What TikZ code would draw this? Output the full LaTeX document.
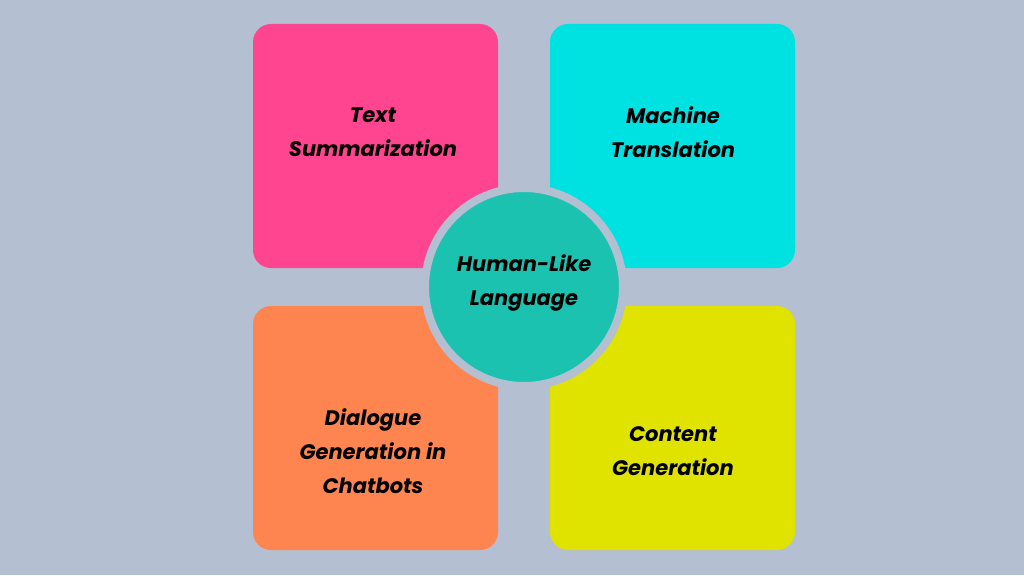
\documentclass[tikz,border=0pt]{standalone}
\usepackage{fontspec}
\setmainfont{Poppins}
\definecolor{bg}{HTML}{B4BFD2}
\definecolor{cpink}{HTML}{FF4590}
\definecolor{ccyan}{HTML}{00E1E1}
\definecolor{corange}{HTML}{FF8550}
\definecolor{cyellow}{HTML}{E0E300}
\definecolor{cteal}{HTML}{1CC2B0}
\begin{document}
\begin{tikzpicture}[x=1pt,y=-1pt,
  card/.style={rounded corners=18pt},
  lbl/.style={font=\fontsize{21}{34}\selectfont\bfseries\itshape,align=center,text=black}]
\fill[bg] (0,0) rectangle (1024,575);
\useasboundingbox (0,0) rectangle (1024,575);
\fill[cpink,card] (253,24) rectangle (498,268);
\fill[ccyan,card] (550,24) rectangle (795,268);
\fill[corange,card] (253,306) rectangle (498,550);
\fill[cyellow,card] (550,306) rectangle (795,550);
\node[lbl] (ts) at (373,132) {Text\\Summarization};
\node[lbl] (mt) at (673,132) {Machine\\Translation};
\node[lbl] (dg) at (373,451) {Dialogue\\Generation in\\Chatbots};
\node[lbl] (cg) at (673,451) {Content\\Generation};
\node[circle,fill=cteal,draw=bg,line width=8pt,minimum size=198pt] (hl) at (524,287) {};
\node[lbl] (hlt) at (524,283) {Human-Like\\Language};
\end{tikzpicture}
\end{document}
